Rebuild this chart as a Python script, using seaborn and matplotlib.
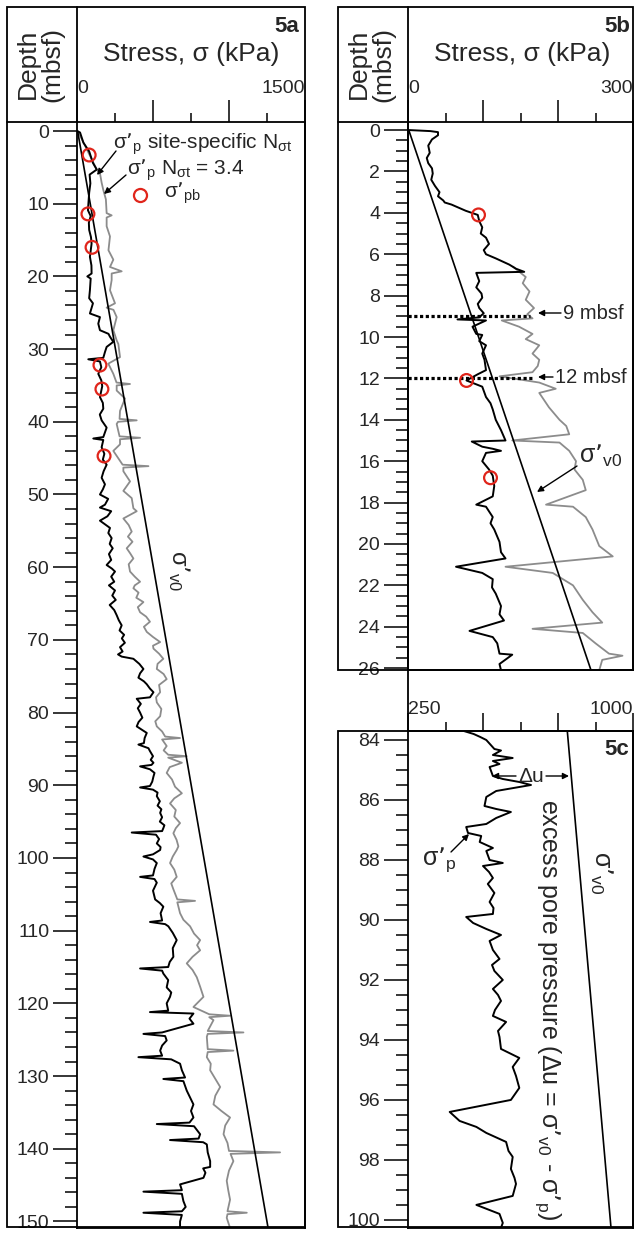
import matplotlib
matplotlib.use('Agg')
import matplotlib.pyplot as plt
import seaborn as sns
from matplotlib.patches import Rectangle, FancyArrowPatch
from matplotlib.lines import Line2D

# --- data: (depth mbsf, stress kPa) ---

# 5a: sigma'p site-specific N (black) and N = 3.4 (grey)
a_black = [(0, 0), (0.2, 20), (1.6, 42), (2.8, 80), (4.4, 105), (5.3, 130), (6.0, 83), (7.2, 88), (8.5, 80),
           (10.9, 72), (11.7, 90), (12.6, 78), (13.6, 80), (14.6, 92), (15.5, 96), (17.3, 85), (18.5, 95),
           (19.6, 96), (20.0, 68), (20.3, 90), (21.9, 85), (23.0, 80), (23.7, 105), (25.1, 85), (25.6, 151),
           (26.5, 140), (27.4, 151), (27.9, 207), (28.3, 217), (29.0, 239), (29.7, 195), (30.4, 184),
           (31.2, 173), (31.4, 74), (31.7, 151), (32.5, 160), (33.4, 140), (34.3, 160), (35.1, 166),
           (36.6, 151), (37.4, 170), (38.2, 173), (39.0, 150), (39.8, 162), (40.8, 195), (42.1, 173),
           (42.3, 107), (42.5, 173), (43.5, 162), (44.4, 180), (45.2, 170), (45.9, 195), (46.8, 175),
           (47.7, 162), (48.6, 184), (49.3, 170), (50.0, 151), (50.6, 205), (51.4, 184), (51.8, 151),
           (52.3, 225), (53.0, 200), (53.6, 151), (54.6, 217), (55.3, 206), (56.0, 228), (56.8, 215),
           (57.4, 235), (58.2, 210), (59.0, 225), (59.7, 195), (60.2, 230), (60.6, 250), (61.3, 225),
           (62.0, 245), (62.5, 210), (63.2, 250), (63.9, 232), (64.5, 255), (65.2, 215), (65.9, 245),
           (66.6, 261), (67.3, 275), (68.0, 294), (68.7, 280), (69.3, 310), (69.8, 295), (70.4, 315),
           (71.0, 283), (71.6, 300), (72.0, 270), (72.3, 294), (72.6, 371), (73.3, 410), (74.0, 437),
           (74.6, 415), (75.2, 404), (75.7, 440), (76.1, 459), (76.7, 480), (77.2, 503), (77.9, 480),
           (78.1, 393), (78.8, 420), (79.4, 400), (80.0, 415), (80.7, 430), (81.3, 405), (81.9, 393),
           (82.4, 430), (82.8, 459), (83.5, 445), (84.2, 440), (84.4, 404), (84.9, 470), (85.3, 480),
           (86.0, 500), (86.5, 485), (86.9, 503), (87.2, 490), (87.4, 415), (87.8, 480), (88.3, 510),
           (88.8, 503), (89.5, 495), (90.1, 480), (90.3, 415), (90.6, 500), (91.0, 530), (91.5, 525),
           (92.2, 545), (92.8, 530), (93.3, 555), (93.8, 547), (94.4, 560), (95.0, 545), (95.5, 575),
           (95.9, 568), (96.3, 560), (96.5, 360), (96.8, 520), (97.4, 540), (98.0, 525), (98.5, 550),
           (98.9, 547), (99.5, 500), (99.8, 437), (100.2, 500), (100.7, 525), (101.5, 510), (102.4, 500),
           (102.6, 415), (102.9, 510), (103.4, 525), (104.5, 500), (105.7, 514), (106.2, 545), (106.7, 568),
           (107.6, 550), (108.6, 560), (108.8, 480), (109.1, 580), (109.4, 601), (110.3, 630), (111.3, 656),
           (112.4, 630), (113.6, 634), (114.3, 610), (115.0, 600), (115.2, 415), (115.5, 560), (115.9, 568),
           (116.8, 600), (117.8, 590), (118.5, 620), (119.1, 612), (120.0, 590), (121.0, 600), (121.2, 480),
           (121.4, 766), (122.1, 740), (122.8, 766), (124.0, 560), (124.2, 437), (124.5, 580), (125.1, 590),
           (125.8, 560), (126.5, 547), (127.2, 560), (127.4, 404), (127.7, 620), (128.3, 678), (129.2, 690),
           (130.2, 711), (130.4, 568), (130.7, 700), (132.0, 722), (133.0, 745), (133.9, 766), (134.8, 750),
           (135.7, 766), (136.4, 740), (136.6, 525), (136.9, 770), (138.0, 810), (138.6, 800), (138.8, 612),
           (139.1, 830), (139.4, 854), (140.5, 860), (141.7, 876), (142.5, 876), (142.7, 830), (143.3, 845),
           (144.0, 832), (144.9, 678), (145.7, 690), (145.9, 437), (146.2, 690), (147.2, 700), (148.0, 715),
           (148.6, 690), (148.8, 437), (149.1, 690), (150.0, 678), (150.9, 678)]

a_grey = [(0, 0), (0.2, 10), (2.5, 64), (5.3, 130), (5.8, 151), (7.1, 162), (8.1, 173), (9.4, 190),
          (11.3, 195), (11.6, 228), (11.9, 195), (13.1, 195), (14.5, 217), (16.4, 207), (17.7, 239),
          (18.7, 217), (19.3, 294), (19.6, 228), (20.5, 228), (21.9, 217), (23.7, 250), (24.3, 195),
          (24.6, 240), (25.6, 261), (27.4, 239), (28.8, 261), (29.3, 272), (31.1, 283), (32.0, 206),
          (33.4, 239), (34.6, 260), (34.8, 349), (35.0, 261), (35.7, 261), (36.8, 316), (38.5, 283),
          (39.6, 280), (39.8, 393), (40.0, 270), (40.3, 261), (42.0, 280), (42.2, 415), (42.4, 283),
          (43.1, 283), (44.0, 239), (45.9, 300), (46.1, 470), (46.3, 305), (46.8, 305), (48.2, 349),
          (49.5, 305), (50.5, 360), (51.9, 371), (52.3, 393), (53.3, 305), (54.2, 340), (55.1, 360),
          (55.8, 335), (56.5, 365), (57.4, 327), (58.1, 350), (58.8, 371), (59.6, 340), (60.6, 349),
          (61.3, 380), (62.0, 415), (62.5, 380), (62.9, 371), (63.5, 405), (64.2, 390), (64.8, 437),
          (65.5, 400), (66.2, 415), (66.8, 455), (67.5, 480), (68.2, 440), (68.9, 459), (69.6, 500),
          (70.3, 547), (70.8, 500), (71.2, 503), (71.9, 540), (72.6, 568), (73.3, 530), (74.0, 525),
          (74.7, 570), (75.4, 590), (76.2, 540), (77.2, 547), (77.9, 520), (78.6, 525), (79.5, 555),
          (80.5, 547), (81.2, 515), (81.9, 525), (82.6, 560), (83.3, 580), (83.5, 678), (83.7, 560),
          (84.6, 590), (85.2, 570), (85.8, 600), (86.0, 722), (86.2, 600), (86.9, 690), (87.5, 610),
          (88.3, 590), (89.2, 625), (90.2, 645), (91.1, 690), (91.8, 640), (92.5, 612), (93.4, 650),
          (94.3, 640), (95.2, 678), (95.9, 650), (96.6, 634), (97.5, 655), (98.4, 667), (98.9, 656),
          (99.8, 630), (100.7, 612), (101.6, 640), (102.6, 656), (103.5, 620), (104.3, 634), (105.7, 660),
          (105.9, 777), (106.1, 660), (107.6, 678), (108.5, 700), (109.4, 744), (110.4, 770), (111.3, 810),
          (112.0, 790), (112.7, 810), (113.6, 760), (114.5, 722), (115.4, 760), (116.4, 788), (117.7, 810),
          (119.1, 832), (120.5, 766), (121.5, 870), (121.7, 1007), (121.9, 870), (122.3, 898),
          (123.8, 860), (124.0, 1095), (124.2, 860), (124.6, 854), (126.3, 860), (126.5, 1029),
          (126.7, 860), (127.4, 854), (128.3, 880), (129.2, 876), (130.4, 910), (131.5, 942), (132.7, 910),
          (133.9, 898), (134.8, 950), (135.7, 1007), (136.8, 975), (138.0, 964), (139.2, 990), (140.3, 1000),
          (140.5, 1336), (140.7, 1010), (141.7, 1029), (143.0, 1000), (144.4, 985), (145.7, 995),
          (147.0, 1007), (148.6, 990), (148.8, 1117), (149.0, 990), (149.5, 985), (150.9, 1007)]

a_sv0 = [(0, 4), (151, 1258)]
a_pb = [(3.3, 80), (11.4, 72), (16.0, 99), (32.2, 151), (35.5, 164), (44.7, 178)]

# 5b: upper 26 m
b_black = [(0, 2), (0.05, 30), (0.1, 40), (0.25, 40), (0.45, 32), (0.75, 27), (1.1, 29), (1.35, 25),
           (1.6, 27), (1.85, 32), (2.1, 33), (2.4, 31), (2.7, 36), (3.0, 42), (3.2, 40), (3.4, 47),
           (3.5, 49), (3.6, 58), (3.9, 77), (4.1, 93), (4.4, 95), (4.7, 99), (5.0, 97), (5.2, 104),
           (5.5, 108), (5.8, 101), (6.0, 104), (6.2, 117), (6.5, 135), (6.7, 144), (6.85, 155), (6.9, 91),
           (7.1, 93), (7.3, 95), (7.6, 91), (7.9, 98), (8.1, 99), (8.4, 93), (8.6, 95), (8.85, 101),
           (9.05, 95), (9.15, 66), (9.2, 104), (9.5, 86), (9.85, 91), (9.9, 99), (10.2, 95), (10.4, 104),
           (10.8, 99), (11.1, 102), (11.6, 104), (11.8, 93), (12.1, 78), (12.4, 99), (12.9, 104),
           (13.2, 110), (13.5, 113), (14.0, 117), (14.5, 124), (15.0, 130), (15.05, 85), (15.3, 99),
           (15.4, 113), (15.5, 124), (15.6, 104), (16.0, 99), (16.4, 108), (16.7, 113), (17.2, 115),
           (17.7, 113), (18.1, 91), (18.2, 104), (18.7, 113), (19.0, 110), (19.3, 115), (19.9, 122),
           (20.4, 124), (20.7, 130), (21.1, 64), (21.4, 99), (21.7, 113), (22.1, 112), (22.4, 117),
           (23.0, 124), (23.4, 122), (23.7, 128), (24.2, 82), (24.5, 113), (24.8, 119), (25.3, 122),
           (25.35, 139), (25.8, 122), (26.1, 124)]

b_grey = [(6.6, 140), (7.1, 157), (7.4, 153), (7.8, 162), (8.2, 157), (8.6, 168), (8.9, 159), (9.1, 166),
          (9.2, 125), (9.5, 148), (9.85, 166), (10.1, 157), (10.4, 175), (10.8, 166), (11.1, 175),
          (11.4, 173), (11.7, 166), (11.9, 122), (12.2, 175), (12.5, 197), (12.7, 175), (13.4, 188),
          (14.0, 202), (14.3, 211), (14.7, 215), (15.0, 139), (15.1, 202), (15.5, 215), (16.0, 224),
          (16.4, 222), (16.9, 233), (17.4, 237), (18.1, 184), (18.2, 220), (18.7, 237), (19.3, 246),
          (20.1, 255), (20.6, 273), (21.1, 130), (21.4, 193), (22.0, 220), (22.7, 233), (23.3, 246),
          (23.8, 259), (24.1, 166), (24.3, 233), (24.8, 250), (25.3, 268), (25.4, 286), (25.6, 259),
          (26.1, 255)]

b_sv0 = [(0, 1), (26.1, 244)]
b_pb = [(4.1, 94), (12.1, 78), (16.8, 110)]
b_marks = [(9, 162, '9 mbsf'), (12, 166, '12 mbsf')]

# 5c: 84-100 m
c_black = [(83.7, 436), (83.8, 469), (83.9, 491), (84.0, 511), (84.3, 538), (84.35, 560), (84.5, 533),
           (84.6, 599), (84.7, 533), (84.8, 555), (84.9, 522), (85.2, 533), (85.3, 566), (85.4, 621),
           (85.5, 660), (85.7, 544), (85.9, 511), (86.2, 505), (86.3, 544), (86.4, 593), (86.6, 544),
           (86.8, 511), (86.9, 444), (87.1, 450), (87.2, 494), (87.4, 489), (87.6, 533), (87.7, 511),
           (88.0, 522), (88.1, 566), (88.2, 500), (88.4, 520), (88.6, 533), (88.8, 516), (89.1, 538),
           (89.4, 522), (89.6, 535), (89.8, 533), (89.9, 444), (90.1, 467), (90.3, 511), (90.5, 560),
           (90.7, 522), (91.0, 533), (91.3, 555), (91.5, 530), (91.7, 538), (92.0, 566), (92.3, 533),
           (92.5, 550), (92.7, 560), (93.0, 540), (93.2, 533), (93.4, 577), (93.7, 550), (93.9, 555),
           (94.3, 560), (94.6, 621), (94.9, 599), (95.2, 610), (95.6, 621), (96.0, 593), (96.4, 389),
           (96.7, 422), (96.9, 478), (97.1, 511), (97.4, 577), (97.7, 585), (97.9, 599), (98.3, 593),
           (98.6, 605), (98.8, 610), (99.2, 599), (99.5, 478), (99.8, 555), (100.1, 566), (100.4, 555)]

c_sv0 = [(83.7, 781), (100.3, 927)]

RED = '#e0251b'
GREY = '#8c8c8c'

sns.set_style('white')
plt.rcParams['font.family'] = ['Liberation Sans', 'DejaVu Sans']
plt.rcParams['mathtext.default'] = 'regular'

W, H = 635, 1234
fig = plt.figure(figsize=(W / 100, H / 100), dpi=100)


def fx(x):
    return x / W


def fy(y):
    return 1 - y / H


def rect(x0, y0, x1, y1):
    return [fx(x0), fy(y1), (x1 - x0) / W, (y1 - y0) / H]


def fline(x0, y0, x1, y1):
    fig.add_artist(Line2D([fx(x0), fx(x1)], [fy(y0), fy(y1)], transform=fig.transFigure,
                          color='k', lw=1.3))


def curve(ax, pts, **kw):
    sns.lineplot(x=[p[1] for p in pts], y=[p[0] for p in pts], ax=ax, sort=False,
                 estimator=None, **kw)


def pbs(ax, pts):
    ax.scatter([p[1] for p in pts], [p[0] for p in pts], s=85, facecolors='none',
               edgecolors=RED, linewidths=1.6, zorder=5)


def style(ax, xlim, xmaj, xlab, xmin, ylim, ymaj, ymin, xlen=16, xpad=2):
    ax.set_xlim(*xlim)
    ax.set_ylim(*ylim)
    ax.set_xticks(xmaj, xlab)
    ax.set_xticks(xmin, minor=True)
    ax.set_yticks(ymaj, [f'{v:g}' for v in ymaj])
    ax.set_yticks(ymin, minor=True)
    ax.xaxis.tick_top()
    ax.tick_params(axis='x', which='major', direction='out', length=xlen, width=1.3,
                   pad=xpad, labelsize=14, top=True, bottom=False)
    ax.tick_params(axis='x', which='minor', direction='out', length=6.5, width=1.3,
                   top=True, bottom=False)
    ax.tick_params(axis='y', which='major', direction='out', length=17, width=1.3,
                   pad=3, labelsize=14, left=True)
    ax.tick_params(axis='y', which='minor', direction='out', length=8.5, width=1.3, left=True)
    ticks = ax.xaxis.get_major_ticks()
    ticks[0].label2.set_horizontalalignment('left')
    ticks[-1].label2.set_horizontalalignment('right')
    ax.set_xlabel('')
    ax.set_ylabel('')
    for s in ax.spines.values():
        s.set_color('k')
        s.set_linewidth(1.3)


# ---------------- panel 5a ----------------
ax_a = fig.add_axes(rect(77, 122, 305, 1228))
curve(ax_a, a_grey, color=GREY, lw=1.3)
curve(ax_a, a_black, color='k', lw=1.4)
curve(ax_a, a_sv0, color='k', lw=1.2)
pbs(ax_a, a_pb)
style(ax_a, (0, 1500), [0, 500, 1000, 1500], ['0', '', '', '1500'], [250, 750, 1250],
      (150.9, -1.24), list(range(0, 151, 10)), list(range(0, 151, 2)))

# ---------------- panel 5b ----------------
ax_b = fig.add_axes(rect(408, 122, 633, 670))
curve(ax_b, b_grey, color=GREY, lw=1.3)
curve(ax_b, b_black, color='k', lw=1.4)
curve(ax_b, b_sv0, color='k', lw=1.2)
for d, s, lab in b_marks:
    ax_b.plot([0, s], [d, d], color='k', lw=2.3, ls=(0, (1, 0.8)))
pbs(ax_b, b_pb)
style(ax_b, (0, 300), [0, 100, 200, 300], ['0', '', '', '300'], [50, 150, 250],
      (26.09, -0.39), list(range(0, 27, 2)), [v / 2 for v in range(0, 53)])

# ---------------- panel 5c ----------------
ax_c = fig.add_axes(rect(408, 731, 633, 1228))
curve(ax_c, c_black, color='k', lw=1.4)
curve(ax_c, c_sv0, color='k', lw=1.2)
style(ax_c, (250, 1000), [250, 500, 750, 1000], ['250', '', '', '1000'], [375, 625, 875],
      (100.27, 83.7), list(range(84, 101, 2)), [84 + v / 2 for v in range(0, 33)],
      xlen=13, xpad=-4)

# ---------------- frames ----------------
for x0, y0, x1, y1 in [(7, 7, 305, 1227), (338, 7, 633, 670), (338, 731, 633, 1227)]:
    fig.add_artist(Rectangle((fx(x0), fy(y1)), (x1 - x0) / W, (y1 - y0) / H, fill=False,
                             ec='k', lw=1.3, transform=fig.transFigure))
fline(7, 122, 77, 122)
fline(77, 7, 77, 122)
fline(338, 122, 408, 122)
fline(408, 7, 408, 731)

# ---------------- headers ----------------
for cx in (40, 371):
    fig.text(fx(cx), fy(64), 'Depth\n(mbsf)', rotation=90, ha='center', va='center',
             fontsize=19, linespacing=1.05)
fig.text(fx(191), fy(61), 'Stress, σ (kPa)', ha='center', va='baseline', fontsize=19)
fig.text(fx(522), fy(61), 'Stress, σ (kPa)', ha='center', va='baseline', fontsize=19)
fig.text(fx(299), fy(32), '5a', ha='right', va='baseline', fontsize=16, fontweight='bold')
fig.text(fx(630), fy(32), '5b', ha='right', va='baseline', fontsize=16, fontweight='bold')
fig.text(fx(629), fy(755), '5c', ha='right', va='baseline', fontsize=16, fontweight='bold')


def farrow(x0, y0, x1, y1):
    fig.add_artist(FancyArrowPatch((fx(x0), fy(y0)), (fx(x1), fy(y1)), transform=fig.transFigure,
                                   arrowstyle='-|>', color='k', lw=1.0, mutation_scale=9,
                                   shrinkA=0, shrinkB=0))


# 5a labels
fig.text(fx(113), fy(149), 'σ’$_p$ site-specific N$_{σt}$', ha='left', va='baseline', fontsize=15)
farrow(116, 151, 97, 175)
fig.text(fx(127), fy(175), 'σ’$_p$ N$_{σt}$ = 3.4', ha='left', va='baseline', fontsize=15)
farrow(126, 175, 104, 194)
fig.add_artist(Line2D([fx(140)], [fy(195)], marker='o', ms=9.4, mfc='none', mec=RED, mew=1.6,
                      transform=fig.transFigure))
fig.text(fx(164), fy(198), 'σ’$_{pb}$', ha='left', va='baseline', fontsize=15)
fig.text(fx(179), fy(571), 'σ’$_{v0}$', rotation=270, ha='center', va='center', fontsize=17)

# 5b labels
for (d, s, lab), xt, yb in zip(b_marks, (563, 555), (319, 383)):
    fig.text(fx(xt), fy(yb), lab, ha='left', va='baseline', fontsize=14.5)
    farrow(xt - 2, yb - 6, 538, yb - 6)
fig.text(fx(579), fy(463), 'σ’$_{v0}$', ha='left', va='baseline', fontsize=18)
farrow(577, 466, 537, 492)

# 5c labels
fig.text(fx(531), fy(782), 'Δu', ha='center', va='baseline', fontsize=15)
farrow(516, 776, 492, 776)
farrow(546, 776, 569, 776)
fig.text(fx(422), fy(865), 'σ’$_p$', ha='left', va='baseline', fontsize=18)
farrow(451, 852, 469, 834)
fig.text(fx(548), fy(1010), 'excess pore pressure (Δu = σ’$_{v0}$ - σ’$_p$)', rotation=270,
         ha='center', va='center', fontsize=18)
fig.text(fx(601), fy(873), 'σ’$_{v0}$', rotation=270, ha='center', va='center', fontsize=18)

fig.savefig('out.png', dpi=100)
